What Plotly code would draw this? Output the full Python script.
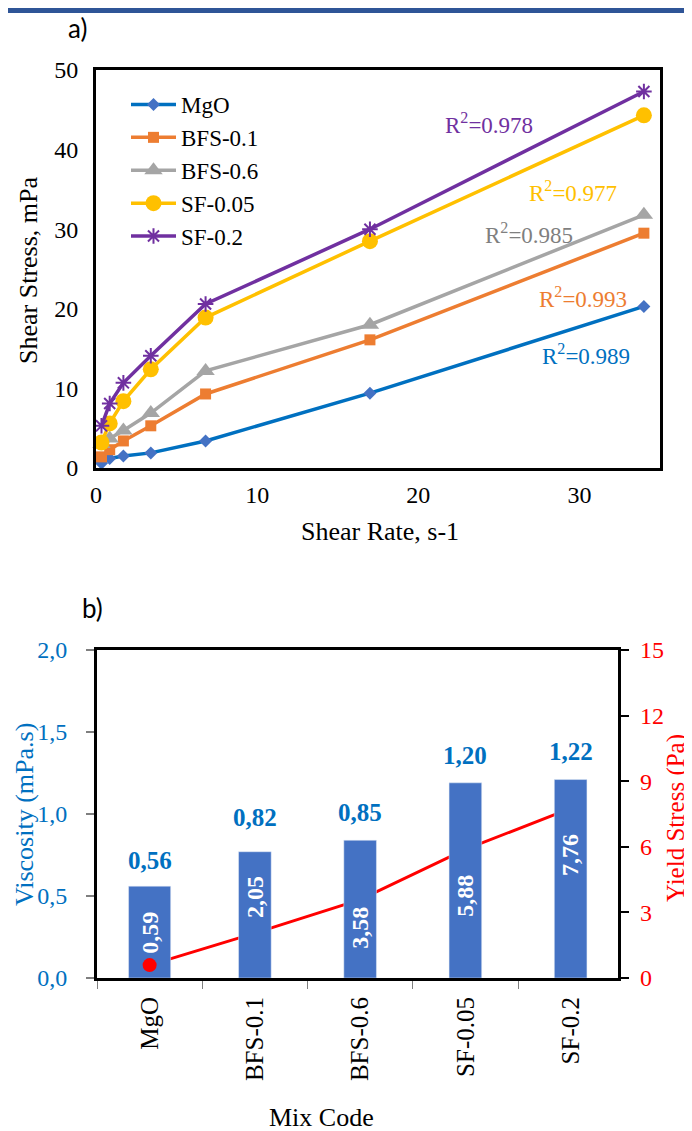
import plotly.graph_objects as go

# page body has an 8 px margin: figure is placed 8 px right/down
OFF = 8
W, H = 692 - OFF, 1131 - OFF

# ---------------- Data: panel a ----------------
shear_rate = [0.34, 0.85, 1.7, 3.4, 6.8, 17, 34]
series_names = ["MgO", "BFS-0.1", "BFS-0.6", "SF-0.05", "SF-0.2"]
stress_mgo = [0.6, 1.2, 1.5, 1.9, 3.4, 9.4, 20.3]
stress_bfs01 = [1.4, 2.3, 3.4, 5.3, 9.3, 16.1, 29.5]
stress_bfs06 = [3.0, 3.7, 4.7, 6.9, 12.2, 18.0, 31.8]
stress_sf005 = [3.2, 5.6, 8.4, 12.4, 18.9, 28.5, 44.3]
stress_sf02 = [5.3, 8.1, 10.7, 14.1, 20.6, 30.0, 47.3]
r2_values = ["0.989", "0.993", "0.985", "0.977", "0.978"]

# ---------------- Data: panel b ----------------
mix_codes = ["MgO", "BFS-0.1", "BFS-0.6", "SF-0.05", "SF-0.2"]
viscosity = [0.56, 0.77, 0.84, 1.19, 1.21]
viscosity_labels = ["0,56", "0,82", "0,85", "1,20", "1,22"]
yield_stress = [0.59, 2.05, 3.58, 5.88, 7.76]

# ---------------- Styles ----------------
FONT = "Liberation Serif"
colors_line = ["#0070C0", "#ED7D31", "#A5A5A5", "#FFC000", "#7030A0"]
colors_marker = ["#4472C4", "#ED7D31", "#A5A5A5", "#FFC000", "#7030A0"]
colors_r2 = ["#0070C0", "#ED7D31", "#7F7F7F", "#FFC000", "#7030A0"]
symbols = ["diamond", "square", "triangle-up", "circle", "asterisk-open"]
sizes = [10, 11, 16, 16, 13]
all_stress = [stress_mgo, stress_bfs01, stress_bfs06, stress_sf005, stress_sf02]


def py(px):
    return 1 - (px - OFF) / H


def pxx(px):
    return (px - OFF) / W


fig = go.Figure()

for name, ys, lc, mc, sym, sz in zip(series_names, all_stress, colors_line,
                                     colors_marker, symbols, sizes):
    marker = dict(symbol=sym, size=sz, color=mc)
    if sym == "asterisk-open":
        marker["line"] = dict(color=mc, width=2)
    fig.add_trace(go.Scatter(
        x=shear_rate, y=ys, name=name, mode="lines+markers",
        line=dict(color=lc, width=3.5), marker=marker,
        xaxis="x", yaxis="y", cliponaxis=False, showlegend=True,
    ))

# Panel b: yield stress line (base axis y2 -> drawn beneath bars)
fig.add_trace(go.Scatter(
    x=mix_codes, y=yield_stress, mode="lines",
    line=dict(color="#FF0000", width=3), xaxis="x2", yaxis="y2",
    showlegend=False,
))
# Panel b: viscosity bars (overlay axis y3)
bar_widths = [0.4, 0.31, 0.31, 0.31, 0.31]
fig.add_trace(go.Bar(
    x=mix_codes, y=viscosity, width=bar_widths, marker=dict(color="#4472C4"),
    xaxis="x2", yaxis="y3", showlegend=False,
))
# Panel b: first yield point marker (overlay axis y4)
fig.add_trace(go.Scatter(
    x=mix_codes[:1], y=yield_stress[:1], mode="markers",
    marker=dict(color="#FF0000", size=14), xaxis="x2", yaxis="y4",
    showlegend=False, cliponaxis=False,
))

annotations = []
# R^2 annotations (panel a)
r2_pos = [(30.4, 14.3), (30.2, 21.4), (26.9, 29.4), (29.6, 34.7), (24.4, 43.3)]
for (ax_, ay_), r2, c in zip(r2_pos, r2_values, colors_r2):
    annotations.append(dict(
        x=ax_, y=ay_, xref="x", yref="y", text="R<sup>2</sup>=" + r2,
        showarrow=False, font=dict(family=FONT, size=23, color=c),
    ))

# viscosity labels above bars
for cat, lab in zip(mix_codes, viscosity_labels):
    annotations.append(dict(
        x=cat, y=float(lab.replace(",", ".")), xref="x2", yref="y3",
        text="<b>" + lab + "</b>", showarrow=False, yshift=26,
        font=dict(family=FONT, size=25, color="#0070C0"),
    ))

# yield stress labels (rotated, white, inside bars)
yshifts = [32, 36, -28, -46, -47]
for cat, v, ys_ in zip(mix_codes, yield_stress, yshifts):
    annotations.append(dict(
        x=cat, y=v, xref="x2", yref="y2",
        text="<b>" + f"{v:.2f}".replace(".", ",") + "</b>",
        showarrow=False, yshift=ys_, textangle=-90,
        xanchor="center", yanchor="middle",
        font=dict(family=FONT, size=24, color="white"),
    ))


def paper_text(x, y, text, size, color, family=FONT, angle=0):
    return dict(x=pxx(x), y=py(y), xref="paper", yref="paper", text=text,
                textangle=angle, showarrow=False, xanchor="center",
                yanchor="middle", borderpad=0,
                font=dict(family=family, size=size, color=color))


annotations += [
    paper_text(77, 28, "a)", 26, "black", family="Lato"),
    paper_text(92, 608, "b)", 26, "black", family="Lato"),
    paper_text(29, 270, "Shear Stress, mPa", 26, "black", angle=-90),
    paper_text(380, 531, "Shear Rate, s-1", 26, "black"),
    paper_text(24, 815, "Viscosity (mPa.s)", 26, "#0070C0", angle=-90),
    paper_text(676, 818, "Yield Stress (Pa)", 25, "#FF0000", angle=-90),
    paper_text(321, 1117, "Mix Code", 26, "black"),
]

tickfont = dict(family=FONT, size=24, color="black")

fig.update_layout(
    width=W, height=H, margin=dict(l=0, r=0, t=0, b=0, pad=0),
    paper_bgcolor="white", plot_bgcolor="white",
    separators=",.",
    font=dict(family=FONT),
    showlegend=True,
    legend=dict(
        x=pxx(126), y=py(83), xanchor="left", yanchor="top",
        bgcolor="rgba(0,0,0,0)", font=dict(family=FONT, size=23, color="black"),
        tracegroupgap=0, itemwidth=45,
    ),
    xaxis=dict(
        domain=[pxx(96), pxx(660)], anchor="y", range=[0, 35], dtick=10,
        showgrid=False, zeroline=False, showline=True, mirror=True,
        linecolor="black", linewidth=3, ticks="", tickfont=tickfont,
        ticklabelstandoff=3, tickformat="d", automargin=False,
    ),
    yaxis=dict(
        domain=[py(468), py(70)], anchor="x", range=[0, 50], dtick=10,
        showgrid=False, zeroline=False, showline=True, mirror=True,
        linecolor="black", linewidth=3, ticks="", tickfont=tickfont,
        ticklabelstandoff=10, tickformat="d", automargin=False,
    ),
    xaxis2=dict(
        domain=[pxx(97), pxx(618)], anchor="y2", type="category",
        range=[-0.5, 4.45], showgrid=False, zeroline=False,
        showline=True, mirror=True, linecolor="black", linewidth=3,
        ticks="outside", tickson="boundaries", ticklen=8, tickcolor="#7F7F7F",
        tickangle=-90, tickfont=dict(family=FONT, size=25, color="black"),
        ticklabelstandoff=6, automargin=False,
    ),
    yaxis2=dict(
        domain=[py(978), py(650)], anchor="x2", side="right", range=[0, 15],
        dtick=3, showgrid=False, zeroline=False, showline=True,
        linecolor="black", linewidth=3, ticks="outside", ticklen=8,
        tickcolor="black", tickwidth=2, showticklabels=False,
        automargin=False,
    ),
    yaxis3=dict(
        overlaying="y2", anchor="x2", side="left", range=[0, 2],
        dtick=0.5, tickformat=".1f", showgrid=False, zeroline=False,
        showline=True, linecolor="black", linewidth=3, ticks="outside",
        ticklen=8, tickcolor="#7F7F7F", tickwidth=2,
        tickfont=dict(family=FONT, size=24, color="#0070C0"),
        ticklabelstandoff=14, automargin=False,
    ),
    yaxis4=dict(
        overlaying="y2", anchor="free", position=pxx(639), side="right",
        range=[0, 15], dtick=3, showline=False, ticks="", showgrid=False,
        zeroline=False, tickfont=dict(family=FONT, size=24, color="#FF0000"),
        automargin=False,
    ),
    annotations=annotations,
    shapes=[dict(type="rect", xref="paper", yref="paper", x0=0, x1=1,
                 y0=1 - 5 / H, y1=1, fillcolor="#2F5597", line=dict(width=0))],
)

fig.write_html("out.html")
